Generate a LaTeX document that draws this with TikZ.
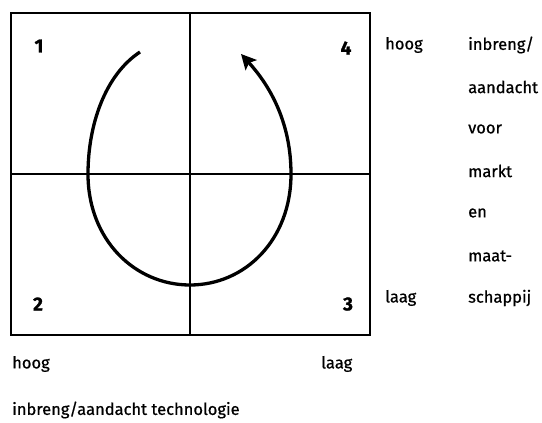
\documentclass[tikz,border=0pt]{standalone}
\usepackage{fontspec}
\setmainfont{Fira Sans}[FakeBold=0.7]
\newfontfamily\numfont{Fira Sans}[FakeBold=1.2]
\usetikzlibrary{arrows.meta}
\begin{document}
\begin{tikzpicture}[x=1pt,y=-1pt,
  lbl/.style={font=\fontsize{16.5}{18}\selectfont, inner sep=0pt, anchor=west},
  num/.style={font=\fontsize{19}{21}\numfont\bfseries, inner sep=0pt},
  grid/.style={line width=1.5pt},
  cycle/.style={line width=3.3pt, -{Stealth[length=15pt,width=15pt,inset=3pt]}}]
\useasboundingbox (0,0) rectangle (542,423);
\node[draw, grid, minimum width=359pt, minimum height=322pt, inner sep=0pt, anchor=north west] (box) at (10,12) {};
\coordinate (top) at (190,12);
\coordinate (bot) at (190,334);
\coordinate (lft) at (10,174);
\coordinate (rgt) at (369,174);
\draw[grid] (top) -- (bot);
\draw[grid] (lft) -- (rgt);
\node[num] (n1) at (39,46) {1};
\node[num] (n4) at (346,48) {4};
\node[num] (n2) at (38,304) {2};
\node[num] (n3) at (348,304) {3};
\coordinate (s) at (140,52);
\coordinate (e) at (241,54);
\draw[cycle] (s) .. controls (105,75) and (88,125) .. (88,174)
  .. controls (88,240) and (135,285) .. (190,285)
  .. controls (245,285) and (291,240) .. (291,174)
  .. controls (291,125) and (272,88) .. (e);
\node[lbl] (hr) at (385,45) {hoog};
\node[lbl] (lr) at (385,298) {laag};
\node[lbl] (t1) at (468,45) {inbreng/};
\node[lbl] (t2) at (468,87) {aandacht};
\node[lbl] (t3) at (468,129) {voor};
\node[lbl] (t4) at (468,171) {markt};
\node[lbl] (t5) at (468,213) {en};
\node[lbl] (t6) at (468,256) {maat-};
\node[lbl] (t7) at (468,298) {schappij};
\node[lbl] (hb) at (12,364) {hoog};
\node[lbl] (lb) at (321,364) {laag};
\node[lbl] (tb) at (12,410) {inbreng/aandacht technologie};
\end{tikzpicture}
\end{document}
